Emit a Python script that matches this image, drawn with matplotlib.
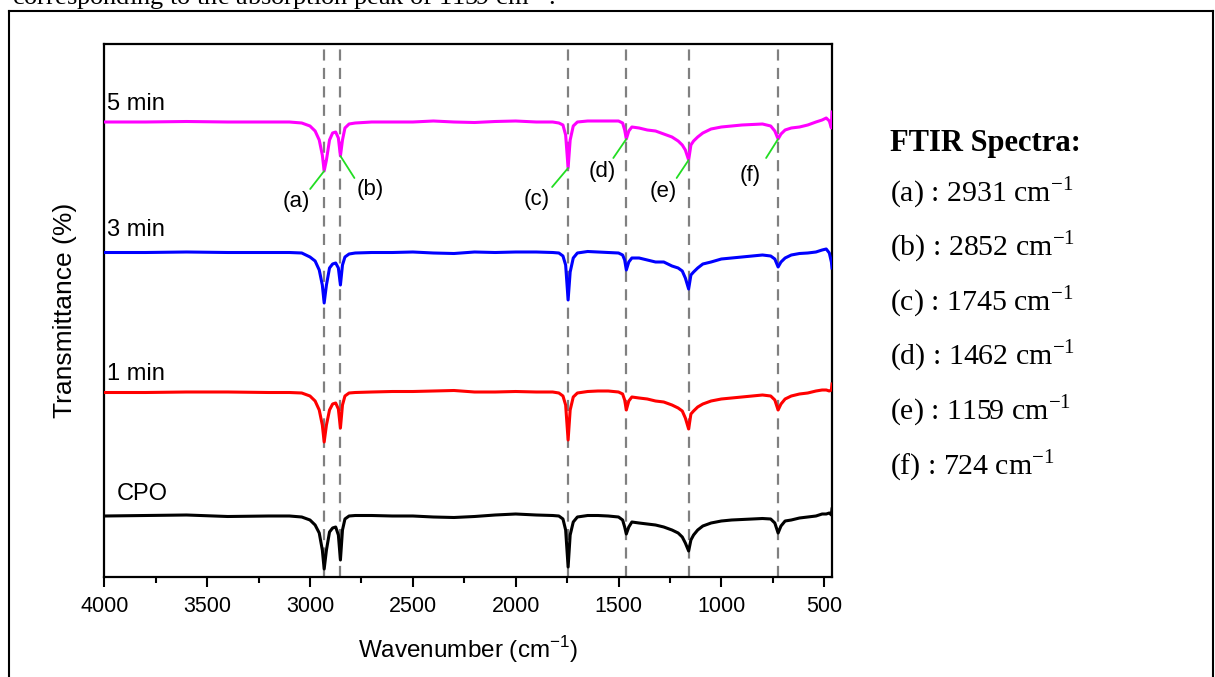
import numpy as np
import matplotlib
matplotlib.use("Agg")
import matplotlib.pyplot as plt
from matplotlib.lines import Line2D
from matplotlib.ticker import MultipleLocator

plt.rcParams['font.family'] = ['Liberation Sans', 'DejaVu Sans']

# wavenumber grid (cm-1) the traces were read on
wn = [4000, 3800, 3600, 3400, 3200, 3100, 3040, 3000, 2975, 2955, 2940, 2931, 2920, 2905,
      2890, 2875, 2862, 2852, 2842, 2830, 2810, 2780, 2700, 2600, 2500, 2400, 2300, 2200,
      2100, 2000, 1900, 1820, 1790, 1770, 1757, 1745, 1735, 1720, 1700, 1650, 1600, 1550,
      1500, 1480, 1470, 1462, 1450, 1435, 1400, 1360, 1320, 1280, 1240, 1210, 1190, 1175,
      1159, 1148, 1135, 1115, 1090, 1050, 1000, 950, 900, 850, 800, 760, 740, 724, 710,
      690, 660, 620, 580, 540, 510, 490, 475, 465, 462]

# transmittance (a.u., stacked)
t_5min = [455, 455, 455.5, 455, 455, 455, 454, 451, 446, 437, 422, 406, 417, 437,
          444, 445, 439, 421, 437, 449, 453, 454, 455, 455, 455, 456, 455, 454.5,
          455.5, 456, 455, 455, 454, 452, 442, 409, 437, 451, 455, 456, 456, 456,
          456, 454, 447, 438, 446, 450, 449, 447, 446, 443, 440, 436, 432, 427,
          417, 432, 436, 440, 444, 448, 450, 451, 452, 452.5, 453, 451, 446, 438, 443,
          447, 449, 450, 452, 455, 457, 459, 456, 449, 465]
t_3min = [324.5, 324.5, 325, 324.5, 324.5, 324.5, 324, 320, 316, 307, 292, 274, 292, 309,
          313, 314, 309, 292, 312, 320, 323, 324, 324.5, 324.5, 325, 324, 323.5, 325,
          324.5, 325, 325, 324.5, 324, 321, 312, 277, 305, 319, 324, 325.5, 325, 324.5,
          324, 322, 317, 307, 315, 319, 319, 317, 315, 315, 311, 309, 306, 299,
          288, 302, 305, 309, 313, 315, 318, 319, 320, 321, 322, 321, 318, 310, 315,
          319, 322, 323.5, 324, 325, 327, 328, 324, 315, 309]
t_1min = [184.5, 184.5, 185, 185, 184.5, 184.5, 184, 181, 176, 167, 152, 135, 152, 167,
          173, 174, 168, 149, 172, 181, 184, 184.5, 185, 185.5, 185.5, 186, 186.5, 185,
          185, 185.5, 185, 185, 184, 181, 172, 137, 167, 180, 184, 185.5, 186, 186,
          185, 183, 177, 167, 176, 180, 179, 178, 176, 175, 172, 169, 166, 159,
          148, 163, 166, 170, 173, 176, 178, 179, 180, 181, 182, 181, 177, 167, 173,
          178, 181, 183, 184, 186, 187, 187, 186, 187, 193]
t_cpo = [61, 61.5, 62, 60.5, 61, 61, 60, 57, 52, 44, 27, 8, 27, 45,
         49, 50, 42, 17, 47, 58, 61, 61.5, 61.5, 61, 61, 60, 59.5, 60.5,
         62, 63, 62, 61.5, 61, 58, 47, 10, 42, 55, 60, 61.5, 61.5, 61,
         60, 57, 50, 43, 50, 55, 54, 53, 52, 50, 47, 44, 40, 34,
         26, 37, 42, 47, 51, 54, 56, 57, 57.5, 58, 58.5, 58, 54, 44, 51,
         56, 57, 59, 60, 61, 63, 63, 64, 62, 68]

series_names = ["5 min", "3 min", "1 min", "CPO"]
series_colors = ["#ff00ff", "#0000ff", "#ff0000", "#000000"]

peaks = [2931, 2852, 1745, 1462, 1159, 724]
peak_tags = ["(a)", "(b)", "(c)", "(d)", "(e)", "(f)"]

fig = plt.figure(figsize=(12.15, 6.77), dpi=100)

# outer document frame + clipped caption line above it
fig.add_artist(Line2D([9/1215, 9/1215], [0, 1 - 11/677], color='black', lw=1.5))
fig.add_artist(Line2D([9/1215, 1213/1215], [1 - 11/677, 1 - 11/677], color='black', lw=1.5))
fig.add_artist(Line2D([1213/1215, 1213/1215], [0, 1 - 11/677], color='black', lw=1.5))
fig.text(12/1215, 1 - 5/677, "corresponding to the absorption peak of 1159 cm$^{\\mathregular{-1}}$.",
         family='Liberation Serif', fontsize=19, va='baseline', ha='left')

ax = fig.add_axes([104.3/1215, 1 - 577/677, (832 - 104.3)/1215, (577 - 44)/677])

for p in peaks:
    ax.axvline(p, color='#808080', lw=1.6, dashes=(5, 3.3), zorder=1)

data = [t_5min, t_3min, t_1min, t_cpo]
for name, col, t in zip(series_names, series_colors, data):
    ax.plot(wn, t, color=col, lw=2.2, zorder=3)

label_x = [3988, 3988, 3988, 3938]
label_dy = [18, 22, 19, 22]
for name, t, lx, dy in zip(series_names, data, label_x, label_dy):
    ax.text(lx, t[0] + dy, name, fontsize=17, ha='left', va='center')

# annotation offsets (pixels) from the 5 min dip: line end, label centre
line_off = [(-14, -18), (14, -22), (-16, -19), (-13, -19), (-12, -18), (-12, -19)]
text_off = [(-28, -31), (30, -33), (-31, -31), (-24, -32), (-25, -32), (-28, -36)]
for p, tag, lo, to in zip(peaks, peak_tags, line_off, text_off):
    y = t_5min[wn.index(p)]
    ax.annotate('', xy=(p, y), xytext=lo, textcoords='offset pixels',
                arrowprops=dict(arrowstyle='-', color='#22dd22', lw=1.3,
                                shrinkA=0, shrinkB=0), zorder=4)
    ax.annotate(tag, xy=(p, y), xytext=to, textcoords='offset pixels',
                ha='center', va='center', fontsize=16)

ax.set_xlim(4000, 462)
ax.set_ylim(0, 533)
ax.xaxis.set_major_locator(MultipleLocator(500))
ax.xaxis.set_minor_locator(MultipleLocator(250))
ax.tick_params(axis='x', which='major', direction='out', length=7, width=1.5, labelsize=15.5, pad=7)
ax.tick_params(axis='x', which='minor', direction='out', length=4, width=1.5)
ax.set_yticks([])
for s in ax.spines.values():
    s.set_linewidth(1.6)

ax.set_xlabel("Wavenumber (cm$^{\\mathregular{-1}}$)", fontsize=17.5, labelpad=12)
ax.set_ylabel("Transmittance (%)", fontsize=19, labelpad=20)

# side legend text
fig.text(890/1215, 1 - 143/677, "FTIR Spectra:", family='Liberation Serif',
         fontweight='bold', fontsize=22, va='center', ha='left')
row_y = [193, 247, 302, 356, 411, 466]
for tag, p, ry in zip(peak_tags, peaks, row_y):
    fig.text(890/1215, 1 - ry/677, tag + " : " + str(p) + " cm$^{\\mathregular{-1}}$",
             family='Liberation Serif', fontsize=21.5, va='center', ha='left')

fig.savefig("out.png", dpi=100)
